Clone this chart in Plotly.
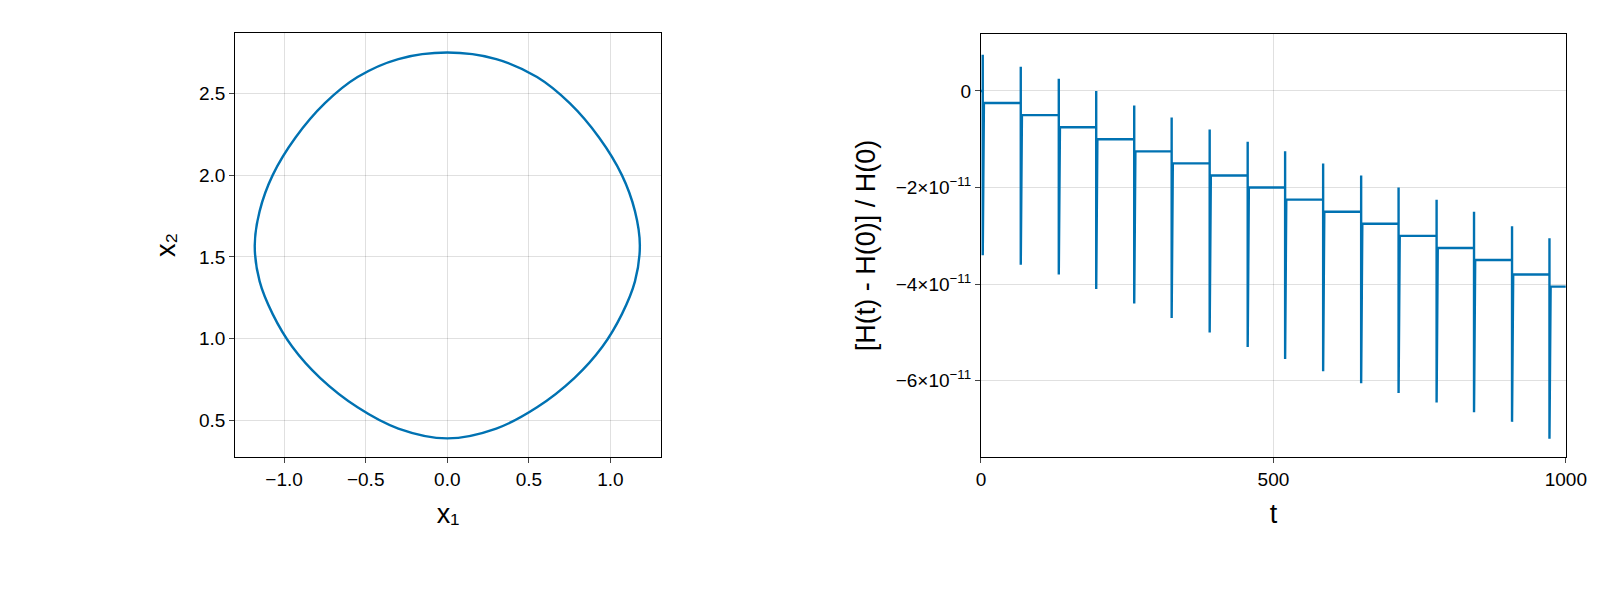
import plotly.graph_objects as go

# phase portrait curve
x1 = [0, 0.3, 0.55, 0.75, 0.93, 1.07, 1.15, 1.18, 1.15, 1.07, 0.95, 0.78, 0.55, 0.3, 0,
      -0.3, -0.55, -0.78, -0.95, -1.07, -1.15, -1.18, -1.15, -1.07, -0.93, -0.75, -0.55, -0.3, 0]
x2 = [2.75, 2.71, 2.6, 2.44, 2.23, 2.0, 1.78, 1.57, 1.35, 1.15, 0.95, 0.76, 0.58, 0.45, 0.39,
      0.45, 0.58, 0.76, 0.95, 1.15, 1.35, 1.57, 1.78, 2.0, 2.23, 2.44, 2.6, 2.71, 2.75]

# energy error (units of 1e-11)
step_t = [3, 68, 133, 197, 262, 326, 391, 456, 520, 585, 650, 714, 779, 843, 908, 972]
spike_top = [0.75, 0.5, 0.25, 0.0, -0.3, -0.55, -0.8, -1.05, -1.25, -1.5, -1.75, -2.0, -2.25, -2.5, -2.8, -3.05]
spike_bot = [-3.4, -3.6, -3.8, -4.1, -4.4, -4.7, -5.0, -5.3, -5.55, -5.8, -6.05, -6.25, -6.45, -6.65, -6.85, -7.2]
level = [-0.25, -0.5, -0.75, -1.0, -1.25, -1.5, -1.75, -2.0, -2.25, -2.5, -2.75, -3.0, -3.25, -3.5, -3.8, -4.05]
t_end = 1000

tt, hh = [0], [0.0]
prev = 0.0
for t, a, b, l in zip(step_t, spike_top, spike_bot, level):
    tt += [t, t, t, t, t + 1, t + 1, t + 2]
    hh += [prev, a, b, l, a * 0.6 + l * 0.4, b * 0.5 + l * 0.5, l]
    prev = l
tt.append(t_end); hh.append(prev)
hh = [v * 1e-11 for v in hh]

col = "#0072b2"
fig = go.Figure()
fig.add_trace(go.Scatter(x=x1, y=x2, mode="lines", line=dict(color=col, width=2.4, shape="spline", smoothing=1.0),
                         xaxis="x", yaxis="y"))
fig.add_trace(go.Scatter(x=tt, y=hh, mode="lines", line=dict(color=col, width=2.4), xaxis="x2", yaxis="y2"))

W, H = 1600, 600
def dx(p): return (p - 12.96) / 0.9655 / W
def dy(p): return 1 - (p - 6.5) / 0.983 / H

ax = dict(showline=True, linecolor="black", mirror=True, ticks="outside", ticklen=5,
          gridcolor="rgba(0,0,0,0.12)", zeroline=False, tickfont=dict(size=19, color="black"),
          title_font=dict(size=27, color="black"))
yt = [0, -2e-11, -4e-11, -6e-11]
ytt = ["0", "−2×10<sup>−11</sup>", "−4×10<sup>−11</sup>", "−6×10<sup>−11</sup>"]
fig.update_layout(
    width=W, height=H, showlegend=False, plot_bgcolor="white", paper_bgcolor="white",
    font=dict(family="Liberation Sans, Arial, sans-serif"),
    margin=dict(l=0, r=0, t=0, b=0),
    xaxis=dict(ax, domain=[dx(231), dx(649)], range=[-1.3, 1.31], anchor="y",
               tickvals=[-1, -0.5, 0, 0.5, 1], ticktext=["−1.0", "−0.5", "0.0", "0.5", "1.0"], title_text="x₁"),
    yaxis=dict(ax, domain=[dy(448), dy(31)], range=[0.275, 2.87], anchor="x",
               tickvals=[0.5, 1, 1.5, 2, 2.5], ticktext=["0.5", "1.0", "1.5", "2.0", "2.5"], title_text="x₂"),
    xaxis2=dict(ax, domain=[dx(963), dx(1537)], range=[0, 1000], anchor="y2",
                tickvals=[0, 500, 1000], title_text="t"),
    yaxis2=dict(ax, domain=[dy(448), dy(32)], range=[-7.58e-11, 1.18e-11], anchor="x2",
                tickvals=yt, ticktext=ytt, title_text="[H(t) - H(0)] / H(0)", title_standoff=12),
)
fig.write_html("out.html")
